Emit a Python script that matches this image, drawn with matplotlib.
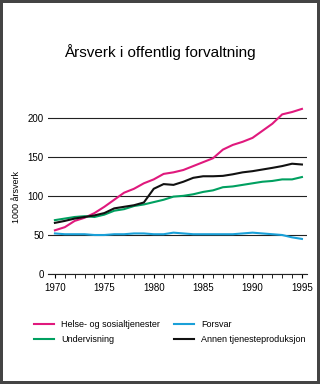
import matplotlib
matplotlib.use('Agg')
import matplotlib.pyplot as plt

plt.rcParams['font.family'] = ['Liberation Sans', 'DejaVu Sans']

# Data (1000 årsverk)
years = list(range(1970, 1996))
helse = [56, 60, 68, 72, 78, 86, 95, 104, 109, 116, 121, 128, 130, 133, 138, 143,
         148, 159, 165, 169, 174, 183, 192, 204, 207, 211]
undervisning = [69, 71, 73, 74, 73, 76, 81, 83, 87, 89, 92, 95, 99, 100, 102, 105,
                107, 111, 112, 114, 116, 118, 119, 121, 121, 124]
forsvar = [52, 51, 51, 51, 50, 50, 51, 51, 52, 52, 51, 51, 53, 52, 51, 51,
           51, 51, 51, 52, 53, 52, 51, 50, 47, 45]
annen = [65.5, 68, 71, 73, 75, 78, 84, 86, 88, 91.5, 109, 115, 114, 118, 123, 125,
         125, 125.5, 127.5, 130, 131.5, 133.6, 135.7, 138, 141, 140]

fig = plt.figure(figsize=(3.2, 3.84), dpi=100)
fig.patch.set_edgecolor('#444444')
fig.patch.set_linewidth(3)

ax = fig.add_axes([0.15, 0.286, 0.809, 0.459])

ax.plot(years, helse, color='#e0197d', lw=1.5, label='Helse- og sosialtjenester')
ax.plot(years, undervisning, color='#00a060', lw=1.5, label='Undervisning')
ax.plot(years, forsvar, color='#1aa0d8', lw=1.5, label='Forsvar')
ax.plot(years, annen, color='#111111', lw=1.5, label='Annen tjenesteproduksjon')

ax.set_xlim(1969.3, 1995.5)
ax.set_ylim(0, 225)
ax.set_yticks([0, 50, 100, 150, 200])
ax.set_xticks([1970, 1975, 1980, 1985, 1990, 1995])
ax.set_xticks(years, minor=True)
ax.grid(axis='y', color='#222222', lw=0.8)
ax.set_axisbelow(True)
for s in ['top', 'right', 'left']:
    ax.spines[s].set_visible(False)
ax.spines['bottom'].set_color('#222222')
ax.tick_params(axis='y', length=0, labelsize=7, pad=3)
ax.tick_params(axis='x', which='both', length=3, direction='out', labelsize=7, pad=3)
ax.set_ylabel('1000 årsverk', fontsize=6.5)
ax.yaxis.set_label_coords(-0.105, 0.44)

fig.text(0.5, 0.865, 'Årsverk i offentlig forvaltning', ha='center', va='center', fontsize=11)

fig.legend(loc='upper left', bbox_to_anchor=(0.08, 0.187), ncol=2, frameon=False,
           fontsize=6.5, handlelength=2.2, columnspacing=1.6, handletextpad=0.8,
           labelspacing=0.6)

fig.savefig('out.png', dpi=100)
